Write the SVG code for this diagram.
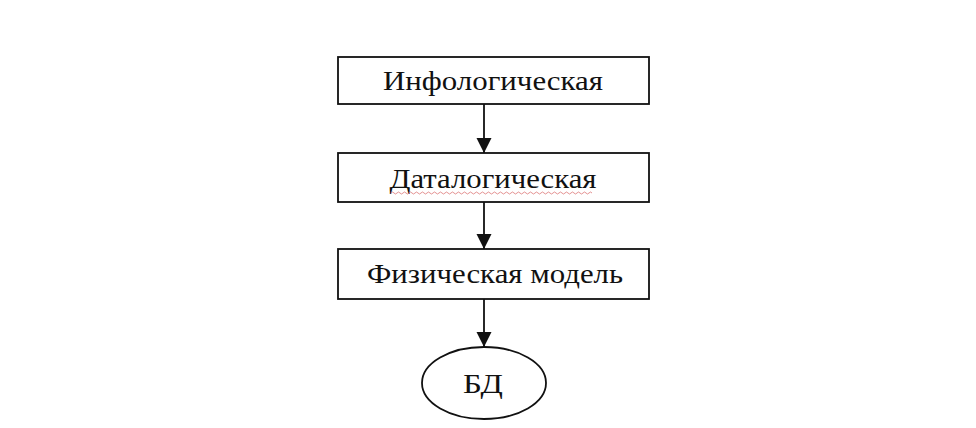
<svg xmlns="http://www.w3.org/2000/svg" width="976" height="428" viewBox="0 0 976 428">
<style>
.box{fill:#fff;stroke:#111;stroke-width:1.8}
.t{font-family:"Liberation Serif","Times New Roman",serif;font-size:28px;fill:#111;text-anchor:middle}
.c{stroke:#111;stroke-width:1.8;fill:none}
</style>
<defs>
<marker id="ah" markerWidth="15" markerHeight="16" refX="15" refY="8" orient="auto" markerUnits="userSpaceOnUse">
<path d="M0,0.5 L15,8 L0,15.5 Z" fill="#111"/>
</marker>
</defs>
<rect width="976" height="428" fill="#fff"/>
<g id="connectors">
<line class="c" x1="484" y1="104" x2="484" y2="153" marker-end="url(#ah)"/>
<line class="c" x1="484" y1="202" x2="484" y2="249" marker-end="url(#ah)"/>
<line class="c" x1="484" y1="299" x2="484" y2="347" marker-end="url(#ah)"/>
</g>
<g id="n1">
<rect class="box" x="338" y="57" width="311" height="47"/>
<text class="t" x="493" y="90" textLength="220" lengthAdjust="spacingAndGlyphs">Инфологическая</text>
</g>
<g id="n2">
<rect class="box" x="338" y="153" width="311" height="49"/>
<text class="t" x="493" y="188" textLength="207" lengthAdjust="spacingAndGlyphs">Даталогическая</text>
<path d="M391,193 q1.5,-2 3,0 t3,0 t3,0 t3,0 t3,0 t3,0 t3,0 t3,0 t3,0 t3,0 t3,0 t3,0 t3,0 t3,0 t3,0 t3,0 t3,0 t3,0 t3,0 t3,0 t3,0 t3,0 t3,0 t3,0 t3,0 t3,0 t3,0 t3,0 t3,0 t3,0 t3,0 t3,0 t3,0 t3,0 t3,0 t3,0 t3,0 t3,0 t3,0 t3,0 t3,0 t3,0 t3,0 t3,0 t3,0 t3,0 t3,0 t3,0 t3,0 t3,0 t3,0 t3,0 t3,0 t3,0 t3,0 t3,0 t3,0 t3,0 t3,0 t3,0 t3,0 t3,0 t3,0 t3,0 t3,0 t3,0 t3,0" fill="none" stroke="#d77" stroke-width="1" opacity="0.8"/>
</g>
<g id="n3">
<rect class="box" x="338" y="249" width="311" height="50"/>
<text class="t" x="495" y="283" textLength="256" lengthAdjust="spacingAndGlyphs">Физическая модель</text>
</g>
<g id="n4">
<ellipse class="box" cx="484" cy="383" rx="62" ry="36"/>
<text class="t" x="483" y="393" textLength="40" lengthAdjust="spacingAndGlyphs">БД</text>
</g>
</svg>
